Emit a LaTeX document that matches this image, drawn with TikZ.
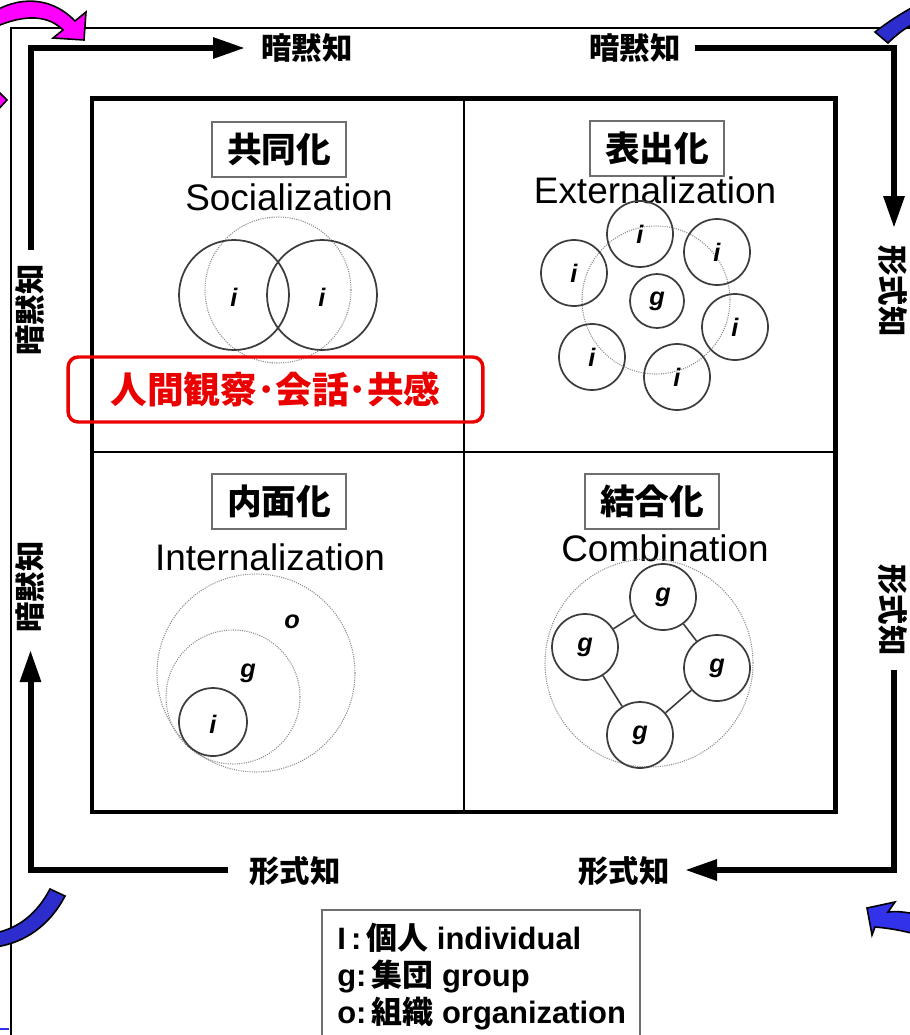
\documentclass[tikz,border=0pt]{standalone}
\usepackage{fontspec}
\setmainfont{Liberation Sans}
\newfontfamily\jp{Noto Sans CJK JP}
\usetikzlibrary{arrows.meta}
\definecolor{mag}{RGB}{255,0,255}
\definecolor{blueA}{RGB}{45,45,205}
\definecolor{blueB}{RGB}{50,50,235}
\definecolor{redC}{RGB}{235,0,0}
\definecolor{boxgray}{RGB}{110,110,110}
\definecolor{circgray}{RGB}{60,60,60}
\definecolor{dotgray}{RGB}{140,140,140}
\begin{document}
\begin{tikzpicture}[x=0.75pt,y=-0.75pt,
 bigarrow/.style={line width=4.5pt, -{Triangle[length=24pt,width=15pt]}},
 axlabel/.style={font=\jp\bfseries\fontsize{22.8}{24}\selectfont, inner sep=0pt},
 titlebox/.style={draw=boxgray, line width=1.1pt, minimum width=100.5pt, minimum height=41pt, inner sep=0pt, font=\jp\bfseries\fontsize{26}{28}\selectfont},
 eng/.style={font=\fontsize{27.7}{30}\selectfont, inner sep=0pt},
 solidc/.style={circle, draw=circgray, line width=1.3pt, inner sep=0pt},
 dotcirc/.style={circle, draw=dotgray, line width=0.8pt, dash pattern=on 0.8pt off 0.9pt, inner sep=0pt},
 letf/.style={font=\bfseries\itshape\fontsize{19}{21}\selectfont},
 lett/.style={letf, inner sep=0pt},
 gcirc/.style={solidc, letf},
 blockarrow/.style={draw=black, line width=1.2pt, line join=miter},
 legendtxt/.style={anchor=base west, inner sep=0pt, font=\bfseries\fontsize{23.2}{25}\selectfont}
]
\useasboundingbox (0,0) rectangle (910,1035);
\clip (0,0) rectangle (910,1035);
\fill[white] (0,0) rectangle (910,1035);

% outer thin frame
\draw[line width=1.5pt] (10.5,1040) -- (10.5,27.5) -- (915,27.5);
\draw[blueB, line width=1pt] (0,1029) -- (9,1029);

% curved block arrows
\filldraw[fill=mag, blockarrow] (-5,11) .. controls (25,-6) and (55,0) .. (75,21) -- (86,12) -- (84,40) -- (53,38) -- (63,30) .. controls (48,15) and (25,14) .. (-5,27) -- cycle;
\filldraw[fill=mag, blockarrow] (-5,88) -- (7,100) -- (-5,113) -- cycle;
\filldraw[fill=blueA, blockarrow] (875,32) .. controls (888,22) and (900,14) .. (915,6) -- (915,23) .. controls (905,28) and (896,35) .. (888,43) -- cycle;
\filldraw[fill=blueA, blockarrow] (50,889) .. controls (38,912) and (20,928) .. (-5,933) -- (-5,947) .. controls (25,943) and (50,925) .. (65,896) -- cycle;
\filldraw[fill=blueB, blockarrow] (867,908) -- (895,902) -- (888,912) .. controls (897,911) and (905,912) .. (915,914) -- (915,934) .. controls (900,930) and (887,928) .. (875,927) -- (872,935) -- cycle;

% main square
\draw[line width=3.4pt] (92,98.5) rectangle (835.5,812);
\draw[line width=1.5pt] (464,98.5) -- (464,812);
\draw[line width=1.5pt] (92,452) -- (835.5,452);

% axis labels
\node[axlabel] (ltop) at (307,48) {暗黙知};
\node[axlabel] (rtop) at (635,48) {暗黙知};
\node[axlabel, rotate=-90] (rup) at (893,291) {形式知};
\node[axlabel, rotate=-90] (rdown) at (893,610) {形式知};
\node[axlabel] (lbot) at (295,871) {形式知};
\node[axlabel] (rbot) at (624,871) {形式知};
\node[axlabel, rotate=90] (lup) at (30,310) {暗黙知};
\node[axlabel, rotate=90] (ldown) at (30,587) {暗黙知};

% big arrows
\coordinate (a1s) at (30.5,250);
\coordinate (a1e) at (245,48);
\coordinate (a2s) at (695,48);
\coordinate (a2e) at (894,228);
\coordinate (a3s) at (894,670);
\coordinate (a3e) at (685,870);
\coordinate (a4s) at (228,870);
\coordinate (a4e) at (30.5,650);
\draw[bigarrow] (a1s) |- (a1e);
\draw[bigarrow] (a2s) -| (a2e);
\draw[bigarrow] (a3s) |- (a3e);
\draw[bigarrow] (a4s) -| (a4e);

% titles
\node[titlebox] (t1) at (279,149.5) {共同化};
\node[titlebox] (t2) at (657,148.5) {表出化};
\node[titlebox] (t3) at (279,501.5) {内面化};
\node[titlebox] (t4) at (652,501.5) {結合化};
\node[eng] (e1) at (289,197) {Socialization};
\node[eng] (e2) at (655,190) {Externalization};
\node[eng] (e3) at (270,557) {Internalization};
\node[eng] (e4) at (665,548) {Combination};

% Socialization
\node[dotcirc, minimum size=109.5pt] (sd) at (278,290) {};
\node[solidc, minimum size=82.5pt] (s1) at (234,295) {};
\node[solidc, minimum size=82.5pt] (s2) at (322,295) {};
\node[lett] (s1l) at (234,297) {i};
\node[lett] (s2l) at (322,297) {i};

% red box
\node[draw=redC, line width=2.6pt, rounded corners=7.5pt, minimum width=311pt, minimum height=48.75pt, inner sep=0pt, text=redC, font=\jp\bfseries\fontsize{27.5}{29}\selectfont] (rb) at (275.5,389.5) {人間観察･会話･共感};

% Externalization
\node[dotcirc, minimum size=111pt] (xd) at (656,300) {};
\node[gcirc, minimum size=40.5pt] (xg) at (657,301) {g};
\node[gcirc, minimum size=49.5pt] (x1) at (640,234) {i};
\node[gcirc, minimum size=49.5pt] (x2) at (717,252) {i};
\node[gcirc, minimum size=49.5pt] (x3) at (574,273) {i};
\node[gcirc, minimum size=49.5pt] (x4) at (735,327) {i};
\node[gcirc, minimum size=49.5pt] (x5) at (592,357) {i};
\node[gcirc, minimum size=49.5pt] (x6) at (677,377) {i};

% Internalization
\node[dotcirc, minimum size=148.5pt] (io) at (256,673) {};
\node[dotcirc, minimum size=100.5pt] (ig) at (233,697) {};
\node[solidc, minimum size=51pt] (ii) at (213,722) {};
\node[lett] (iol) at (292,622) {o};
\node[lett] (igl) at (248,673) {g};
\node[lett] (iil) at (213,724) {i};

% Combination
\node[dotcirc, minimum size=156pt] (cd) at (649,663) {};
\node[gcirc, minimum size=49.5pt] (c1) at (663,597) {g};
\node[gcirc, minimum size=49.5pt] (c2) at (585,647) {g};
\node[gcirc, minimum size=49.5pt] (c3) at (717,668) {g};
\node[gcirc, minimum size=49.5pt] (c4) at (640,735) {g};
\draw[circgray, line width=1.2pt] (c1) -- (c2);
\draw[circgray, line width=1.2pt] (c2) -- (c4);
\draw[circgray, line width=1.2pt] (c4) -- (c3);
\draw[circgray, line width=1.2pt] (c3) -- (c1);

% legend
\node[draw=boxgray, line width=1.1pt, minimum width=238.5pt, minimum height=101.25pt, inner sep=0pt] (leg) at (481,977.5) {};
\node[legendtxt] (lg1) at (337,949) {I\,:\,{\jp 個人} individual};
\node[legendtxt] (lg2) at (337,986) {g:\,{\jp 集団} group};
\node[legendtxt] (lg3) at (337,1023) {o:\,{\jp 組織} organization};
\end{tikzpicture}
\end{document}
